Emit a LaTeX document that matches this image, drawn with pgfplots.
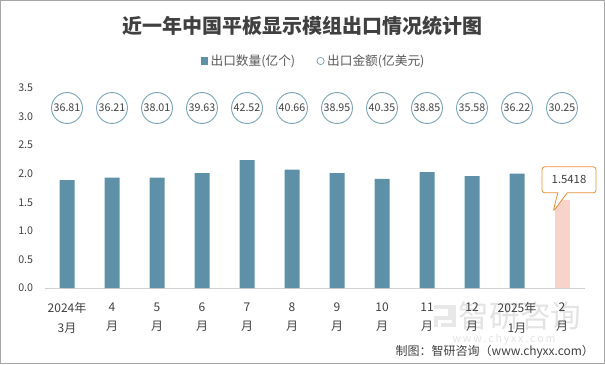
\documentclass[border=0pt]{standalone}
\usepackage{pgfplots}
\pgfplotsset{compat=1.18}
\usepackage{pgfplotstable}
\usepackage{fontspec}
\setmainfont{Noto Sans CJK SC}
\usetikzlibrary{shapes.callouts}
\definecolor{barc}{HTML}{5E91A7}
\definecolor{pinkc}{HTML}{F8D3C9}
\definecolor{circc}{HTML}{7FA6B8}
\definecolor{txt}{HTML}{404040}
\definecolor{orc}{HTML}{E8913A}
\pgfplotstableread{
x q a c
0 1.89 36.81 3.15
1 1.93 36.21 3.15
2 1.93 38.01 3.15
3 2.01 39.63 3.15
4 2.24 42.52 3.15
5 2.07 40.66 3.15
6 2.01 38.95 3.15
7 1.91 40.35 3.15
8 2.03 38.85 3.15
9 1.96 35.58 3.15
10 2.00 36.22 3.15
}\main
\pgfplotstableread{
x q a c
11 1.5418 30.25 3.15
}\last
\begin{document}
\begin{tikzpicture}
\path (0pt,0pt) rectangle (453.75pt,-273pt);
\draw[black!35, line width=0.75pt] (0.375pt,-0.375pt) rectangle (453.375pt,-272.625pt);
\node[font=\bfseries\fontsize{15}{17}\selectfont, text=txt] at (227pt,-19.5pt) {近一年中国平板显示模组出口情况统计图};
% watermark
\fill[black!9] (325.5pt,-229pt) rectangle (339pt,-232pt);
\fill[black!9] (336pt,-229pt) rectangle (339pt,-237pt);
\fill[black!9] (325.5pt,-237pt) rectangle (339pt,-240pt);
\fill[black!9] (325.5pt,-240pt) rectangle (328.5pt,-245pt);
\fill[black!9] (331pt,-242pt) rectangle (342pt,-245pt);
\fill[black!9] (339pt,-229pt) rectangle (342pt,-245pt);
\node[text=black!11, font=\fontsize{23}{26}\selectfont] at (390pt,-237pt) {智研咨询};
\node[text=black!11, font=\fontsize{8}{9}\selectfont] at (378pt,-254.25pt) {w\,w\,w\,.\,c\,h\,y\,x\,x\,.\,c\,o\,m};
\node[text=txt, font=\fontsize{9}{11}\selectfont, anchor=east] at (449pt,-264pt) {制图：智研咨询（www.chyxx.com）};
\begin{axis}[
  at={(33.375pt,-216pt)}, anchor=south west,
  scale only axis, width=405pt, height=150pt,
  xmin=-0.5, xmax=11.5, ymin=0, ymax=3.5,
  axis x line=bottom, axis y line=left,
  x axis line style={draw=black!18, -, line width=0.75pt},
  y axis line style={draw=none},
  major tick length=0pt,
  ytick={0,0.5,...,3.5},
  /pgf/number format/assume math mode=true,
  yticklabel style={/pgf/number format/fixed, /pgf/number format/fixed zerofill, /pgf/number format/precision=1,
    font=\fontsize{8}{10}\selectfont, text=txt, xshift=-5pt},
  xtick={0,...,11},
  xticklabels={{2024年\\3月},{4\\月},{5\\月},{6\\月},{7\\月},{8\\月},{9\\月},{10\\月},{11\\月},{12\\月},{2025年\\1月},{2\\月}},
  xticklabel style={align=center, font=\fontsize{9}{14.5}\selectfont, text=txt, yshift=-7.5pt},
  legend style={at={(0.499,1.135)}, anchor=center, draw=none, fill=none,
    legend columns=2, font=\fontsize{9.5}{11}\selectfont, text=black!65,
    /tikz/every even column/.append style={column sep=14pt}},
  clip=false,
]
\addplot[ybar, bar width=11.25pt, bar shift=0pt, fill=barc, draw=none,
  legend image code/.code={\fill[barc] (0pt,-2.7pt) rectangle (5.4pt,2.7pt);}]
  table[x=x, y=q] {\main};
\addlegendentry{出口数量(亿个)}
\addplot[only marks, mark=*, mark size=11.6pt, mark options={draw=circc, fill=white, line width=0.7pt},
  point meta=explicit, nodes near coords,
  every node near coord/.append style={anchor=center, font=\fontsize{8}{10}\selectfont, text=txt,
    /pgf/number format/fixed, /pgf/number format/fixed zerofill, /pgf/number format/precision=2},
  legend image code/.code={\draw[circc, line width=0.6pt] (2.7pt,0) circle (2.7pt);}]
  table[x=x, y=c, meta=a] {\main};
\addlegendentry{出口金额(亿美元)}
\addplot[ybar, bar width=11.25pt, bar shift=0pt, fill=pinkc, draw=none, forget plot,
  nodes near coords={1.5418},
  every node near coord/.append style={rectangle callout, draw=orc, fill=white, rounded corners=2pt,
    line width=0.6pt, font=\fontsize{8.5}{10}\selectfont, text=txt,
    minimum width=40.5pt, minimum height=19.5pt, anchor=south, xshift=5.25pt, yshift=5pt,
    callout relative pointer={(-7pt,-14pt)}}]
  table[x=x, y=q] {\last};
\addplot[only marks, mark=*, mark size=11.6pt, mark options={draw=circc, fill=white, line width=0.7pt},
  point meta=explicit, nodes near coords, forget plot,
  every node near coord/.append style={anchor=center, font=\fontsize{8}{10}\selectfont, text=txt,
    /pgf/number format/fixed, /pgf/number format/fixed zerofill, /pgf/number format/precision=2}]
  table[x=x, y=c, meta=a] {\last};
\end{axis}
\end{tikzpicture}
\end{document}
